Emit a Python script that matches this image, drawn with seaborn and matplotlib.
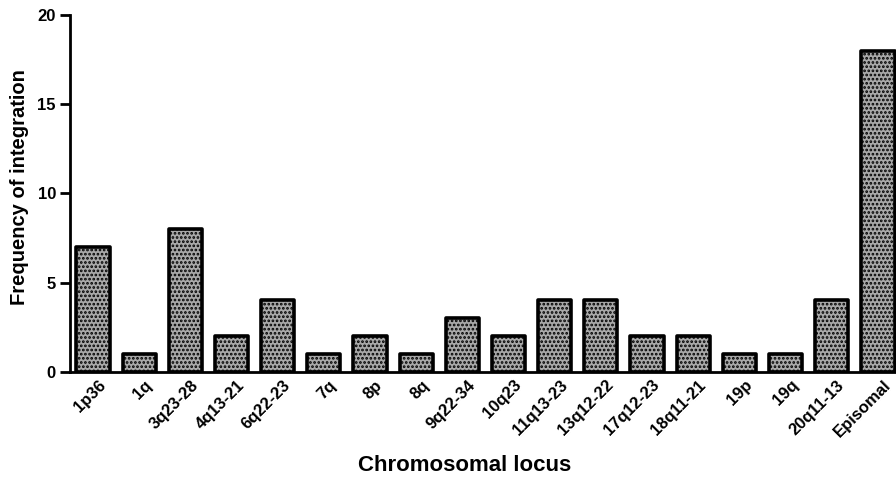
import matplotlib
matplotlib.use("Agg")
import matplotlib.pyplot as plt
import matplotlib.transforms as mtransforms
import pandas as pd
import seaborn as sns

# Data
loci = ["1p36", "1q", "3q23-28", "4q13-21", "6q22-23", "7q", "8p", "8q", "9q22-34",
        "10q23", "11q13-23", "13q12-22", "17q12-23", "18q11-21", "19p", "19q",
        "20q11-13", "Episomal"]
frequency = [7, 1, 8, 2, 4, 1, 2, 1, 3, 2, 4, 4, 2, 2, 1, 1, 4, 18]
y_ticks = [0, 5, 10, 15, 20]

df = pd.DataFrame({"locus": loci, "frequency": frequency})

sns.set_style("white")
plt.rcParams["font.family"] = ["Liberation Sans", "DejaVu Sans"]
plt.rcParams["text.color"] = "black"
plt.rcParams["axes.labelcolor"] = "black"
plt.rcParams["xtick.color"] = "black"
plt.rcParams["ytick.color"] = "black"
plt.rcParams["hatch.color"] = "#303030"
plt.rcParams["hatch.linewidth"] = 1.3

fig = plt.figure(figsize=(8.96, 4.78), dpi=100)
ax = fig.add_axes([0.078, 0.222, 0.925, 0.747])

sns.barplot(data=df, x="locus", y="frequency", ax=ax, color="#a8a8a8",
            width=0.72, edgecolor="black", linewidth=2.6)
for p in ax.patches:
    p.set_hatch("....")
    p.set_joinstyle("round")

ax.set_xlim(-0.5, 17.45)
ax.set_ylim(0, 20)
ax.set_yticks(y_ticks)
ax.tick_params(axis="y", direction="out", length=7, width=2, labelsize=12, left=True, pad=3,
               colors="black")
ax.tick_params(axis="x", length=0, labelsize=12, pad=4, colors="black")
for lab in ax.get_yticklabels():
    lab.set_fontweight("bold")
shift = mtransforms.ScaledTranslation(5 / 100, 0, fig.dpi_scale_trans)
for lab in ax.get_xticklabels():
    lab.set_fontweight("bold")
    lab.set_rotation(45)
    lab.set_ha("right")
    lab.set_rotation_mode("anchor")
    lab.set_transform(lab.get_transform() + shift)

for s in ["top", "right"]:
    ax.spines[s].set_visible(False)
for s in ["left", "bottom"]:
    ax.spines[s].set_linewidth(2)
    ax.spines[s].set_color("black")

ax.set_ylabel("Frequency of integration", fontsize=14.5, fontweight="bold", va="center")
ax.yaxis.set_label_coords(-0.0605, 0.518)
ax.set_xlabel("Chromosomal locus", fontsize=16, fontweight="bold", va="center")
ax.xaxis.set_label_coords(0.476, -0.263)

fig.savefig("out.png", dpi=100)
